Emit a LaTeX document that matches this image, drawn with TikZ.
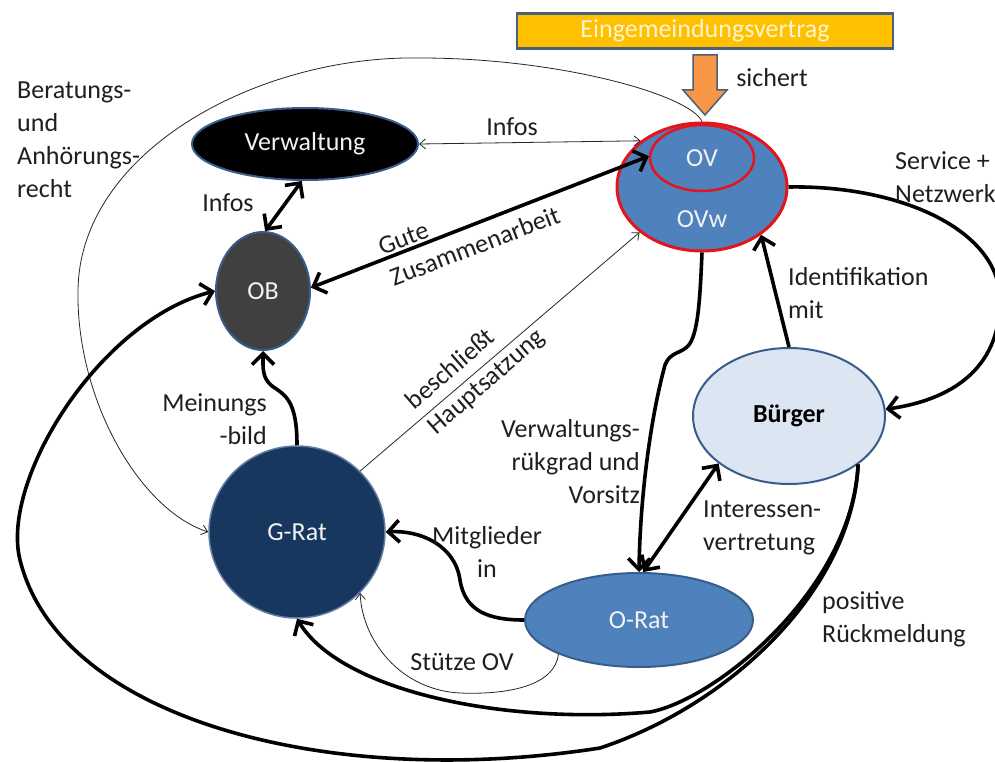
\documentclass[tikz,border=0pt]{standalone}
\usepackage{fontspec}
\setmainfont{Carlito}
\usetikzlibrary{shapes.geometric,arrows.meta}

\definecolor{txt}{HTML}{1F1F1F}
\definecolor{midblue}{HTML}{4F81BD}
\definecolor{edgeblue}{HTML}{385D8A}
\definecolor{navy}{HTML}{17375E}
\definecolor{paleblue}{HTML}{DCE6F2}
\definecolor{obgrey}{HTML}{404040}
\definecolor{ovred}{HTML}{E3141B}
\definecolor{gold}{HTML}{FFC000}
\definecolor{boxedge}{HTML}{4A5F7A}
\definecolor{orangearrow}{HTML}{F79646}
\definecolor{paletext}{HTML}{FFF4D0}

\tikzset{
  bigtip/.tip={Straight Barb[length=11pt,width=22pt]},
  smalltip/.tip={Straight Barb[length=6pt,width=10pt]},
  lbl/.style={font=\fontsize{26}{33}\selectfont, text=txt, inner sep=0pt},
  blob/.style={ellipse, inner sep=0pt, font=\fontsize{26}{33}\selectfont, text=white!95!black},
  heavy/.style={line width=3.6pt, draw=black, -bigtip},
  heavyboth/.style={line width=3.6pt, draw=black, bigtip-bigtip},
  light/.style={line width=0.8pt, draw=black!85, -smalltip},
  lightboth/.style={line width=0.8pt, draw=black!85, smalltip-smalltip},
}

\begin{document}
\begin{tikzpicture}[x=1pt,y=-1pt]
\useasboundingbox[fill=white] (0,0) rectangle (995,762);

% ---- contract box and block arrow
\node[draw=boxedge, line width=2.5pt, fill=gold, minimum width=376pt, minimum height=35pt,
      inner sep=0pt, font=\fontsize{26}{33}\selectfont, text=paletext] (vertrag) at (705,31) {Eingemeindungsvertrag};
\draw[draw=boxedge, line width=1.5pt, fill=orangearrow]
  (693,55) -- (717,55) -- (717,90) -- (727,90) -- (705,115) -- (683,90) -- (693,90) -- cycle;
\node[lbl] (sichert) at (772,78) {sichert};

% ---- actors
\node[blob, fill=midblue, draw=ovred, line width=3pt, minimum width=170pt, minimum height=128pt] (ovw) at (702,187) {};
\node[blob, fill=midblue, draw=ovred, line width=2.5pt, minimum width=104pt, minimum height=66pt] (ov) at (702,158) {OV};
\node[blob] (ovwtext) at (702,219) {OVw};
\node[blob, fill=black, draw=edgeblue, line width=2pt, minimum width=226pt, minimum height=72pt] (vw) at (305,144) {Verwaltung};
\node[blob, fill=obgrey, draw=edgeblue, line width=2pt, minimum width=94pt, minimum height=118pt] (ob) at (263,291) {OB};
\node[blob, fill=navy, draw=edgeblue!80, line width=1.5pt, minimum width=176pt, minimum height=172pt] (gr) at (297,532) {G-Rat};
\node[blob, fill=paleblue, draw=edgeblue, line width=2pt, minimum width=192pt, minimum height=136pt, text=black, font=\fontsize{26}{33}\selectfont\bfseries] (bu) at (789,416) {Bürger};
\node[blob, fill=midblue, draw=edgeblue, line width=2pt, minimum width=228pt, minimum height=94pt] (orat) at (639,620) {O-Rat};

% ---- connectors
\draw[lightboth] (vw.east) -- (ovw.143);
\draw[heavyboth] (ob.4) -- (ov.178);
\draw[heavyboth] (vw.265) -- (ob.88);
\draw[heavy] (gr.north) .. controls (297,400) and (285,395) .. (272,386)
   .. controls (262,378) and (263,368) .. (ob.south);
\draw[light] (gr.44) -- (ovw.216);
\draw[light] (ovw.north) .. controls (690,95) and (560,58) .. (420,58)
   .. controls (260,55) and (80,150) .. (78,290)
   .. controls (76,400) and (140,510) .. (gr.west);
\draw[heavy] (ovw.south) .. controls (700,300) and (698,335) .. (688,346)
   .. controls (680,354) and (670,352) .. (665,365)
   .. controls (650,420) and (640,500) .. (orat.north);
\draw[heavy] (bu.north) -- (ovw.-39);
\draw[heavy] (ovw.east) .. controls (900,185) and (1000,230) .. (1000,300)
   .. controls (1000,370) and (950,400) .. (bu.4);
\draw[heavyboth] (orat.85) -- (bu.214);
\draw[heavy] (orat.west) .. controls (490,620) and (465,612) .. (460,580)
   .. controls (455,545) and (420,530) .. (gr.east);
\draw[light] (orat.203) .. controls (555,685) and (510,695) .. (460,693)
   .. controls (400,690) and (362,640) .. (gr.-44);
\draw[heavy] (bu.-35) .. controls (852,590) and (715,700) .. (650,712)
   .. controls (500,725) and (340,690) .. (gr.south);
\draw[heavy] (bu.-35) .. controls (852,590) and (730,705) .. (600,748)
   .. controls (330,790) and (60,720) .. (20,560)
   .. controls (0,480) and (100,320) .. (ob.west);

% ---- labels
\node[lbl, align=left, anchor=west] (beratung) at (17,140) {Beratungs-\\und\\Anhörungs-\\recht};
\node[lbl] (infostop) at (512,127) {Infos};
\node[lbl] (infosleft) at (228,203) {Infos};
\node[lbl, rotate=21, align=left] (gute) at (469,231) {Gute\\Zusammenarbeit};
\node[lbl, rotate=41, align=left] (beschl) at (476,370) {beschließt\\Hauptsatzung};
\node[lbl, align=right, anchor=east] (meinung) at (267,419) {Meinungs\\-bild};
\node[lbl, align=right, anchor=east] (rueckgrat) at (640,462) {Verwaltungs-\\rükgrad und\\Vorsitz};
\node[lbl, align=left, anchor=west] (ident) at (788,293) {Identifikation\\mit};
\node[lbl, align=left, anchor=west] (service) at (895,177) {Service +\\Netzwerk};
\node[lbl, align=left, anchor=west] (interesse) at (703,528) {Interessen-\\vertretung};
\node[lbl, align=center] (mitglied) at (487,552) {Mitglieder\\in};
\node[lbl] (stuetze) at (462,662) {Stütze OV};
\node[lbl, align=left, anchor=west] (positiv) at (822,619) {positive\\Rückmeldung};
\end{tikzpicture}
\end{document}
